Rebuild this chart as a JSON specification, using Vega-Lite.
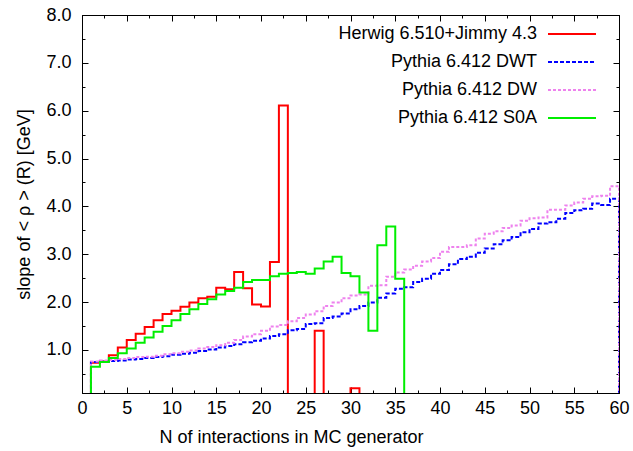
{
  "$schema": "https://vega.github.io/schema/vega-lite/v6.json",
  "width": 537,
  "height": 378,
  "autosize": "none",
  "padding": {"left": 82, "top": 15, "right": 14, "bottom": 58},
  "background": "white",
  "config": {
    "font": "Liberation Sans",
    "view": {"stroke": "black", "strokeWidth": 1},
    "axis": {"domainColor": "black", "tickColor": "black", "labelColor": "black", "titleColor": "black", "grid": false, "labelFontSize": 18, "titleFontSize": 18, "titleFontWeight": "normal", "tickWidth": 1, "domainWidth": 1}
  },
  "data": {
    "values": [
      {"s":"Herwig 6.510+Jimmy 4.3","x":0,"y":0},{"s":"Herwig 6.510+Jimmy 4.3","x":1,"y":0.73},{"s":"Herwig 6.510+Jimmy 4.3","x":2,"y":0.76},{"s":"Herwig 6.510+Jimmy 4.3","x":3,"y":0.89},{"s":"Herwig 6.510+Jimmy 4.3","x":4,"y":1.05},{"s":"Herwig 6.510+Jimmy 4.3","x":5,"y":1.21},{"s":"Herwig 6.510+Jimmy 4.3","x":6,"y":1.34},{"s":"Herwig 6.510+Jimmy 4.3","x":7,"y":1.48},{"s":"Herwig 6.510+Jimmy 4.3","x":8,"y":1.62},{"s":"Herwig 6.510+Jimmy 4.3","x":9,"y":1.75},{"s":"Herwig 6.510+Jimmy 4.3","x":10,"y":1.82},{"s":"Herwig 6.510+Jimmy 4.3","x":11,"y":1.90},{"s":"Herwig 6.510+Jimmy 4.3","x":12,"y":1.99},{"s":"Herwig 6.510+Jimmy 4.3","x":13,"y":2.08},{"s":"Herwig 6.510+Jimmy 4.3","x":14,"y":2.11},{"s":"Herwig 6.510+Jimmy 4.3","x":15,"y":2.30},{"s":"Herwig 6.510+Jimmy 4.3","x":16,"y":2.27},{"s":"Herwig 6.510+Jimmy 4.3","x":17,"y":2.63},{"s":"Herwig 6.510+Jimmy 4.3","x":18,"y":2.29},{"s":"Herwig 6.510+Jimmy 4.3","x":19,"y":1.95},{"s":"Herwig 6.510+Jimmy 4.3","x":20,"y":1.91},{"s":"Herwig 6.510+Jimmy 4.3","x":21,"y":2.84},{"s":"Herwig 6.510+Jimmy 4.3","x":22,"y":6.11},{"s":"Herwig 6.510+Jimmy 4.3","x":23,"y":0},{"s":"Herwig 6.510+Jimmy 4.3","x":24,"y":0},{"s":"Herwig 6.510+Jimmy 4.3","x":25,"y":0},{"s":"Herwig 6.510+Jimmy 4.3","x":26,"y":1.40},{"s":"Herwig 6.510+Jimmy 4.3","x":27,"y":0},{"s":"Herwig 6.510+Jimmy 4.3","x":28,"y":0},{"s":"Herwig 6.510+Jimmy 4.3","x":29,"y":0},{"s":"Herwig 6.510+Jimmy 4.3","x":30,"y":0.20},{"s":"Herwig 6.510+Jimmy 4.3","x":31,"y":0},{"s":"Herwig 6.510+Jimmy 4.3","x":32,"y":0},{"s":"Herwig 6.510+Jimmy 4.3","x":33,"y":0},{"s":"Herwig 6.510+Jimmy 4.3","x":34,"y":0},{"s":"Herwig 6.510+Jimmy 4.3","x":35,"y":0},{"s":"Herwig 6.510+Jimmy 4.3","x":36,"y":0},{"s":"Herwig 6.510+Jimmy 4.3","x":37,"y":0},{"s":"Herwig 6.510+Jimmy 4.3","x":38,"y":0},{"s":"Herwig 6.510+Jimmy 4.3","x":39,"y":0},{"s":"Herwig 6.510+Jimmy 4.3","x":40,"y":0},{"s":"Herwig 6.510+Jimmy 4.3","x":41,"y":0},{"s":"Herwig 6.510+Jimmy 4.3","x":42,"y":0},{"s":"Herwig 6.510+Jimmy 4.3","x":43,"y":0},{"s":"Herwig 6.510+Jimmy 4.3","x":44,"y":0},{"s":"Herwig 6.510+Jimmy 4.3","x":45,"y":0},{"s":"Herwig 6.510+Jimmy 4.3","x":46,"y":0},{"s":"Herwig 6.510+Jimmy 4.3","x":47,"y":0},{"s":"Herwig 6.510+Jimmy 4.3","x":48,"y":0},{"s":"Herwig 6.510+Jimmy 4.3","x":49,"y":0},{"s":"Herwig 6.510+Jimmy 4.3","x":50,"y":0},{"s":"Herwig 6.510+Jimmy 4.3","x":51,"y":0},{"s":"Herwig 6.510+Jimmy 4.3","x":52,"y":0},{"s":"Herwig 6.510+Jimmy 4.3","x":53,"y":0},{"s":"Herwig 6.510+Jimmy 4.3","x":54,"y":0},{"s":"Herwig 6.510+Jimmy 4.3","x":55,"y":0},{"s":"Herwig 6.510+Jimmy 4.3","x":56,"y":0},{"s":"Herwig 6.510+Jimmy 4.3","x":57,"y":0},{"s":"Herwig 6.510+Jimmy 4.3","x":58,"y":0},{"s":"Herwig 6.510+Jimmy 4.3","x":59,"y":0},{"s":"Herwig 6.510+Jimmy 4.3","x":60,"y":0},

      {"s":"Pythia 6.412 DWT","x":0,"y":0},{"s":"Pythia 6.412 DWT","x":1,"y":0.75},{"s":"Pythia 6.412 DWT","x":2,"y":0.76},{"s":"Pythia 6.412 DWT","x":3,"y":0.77},{"s":"Pythia 6.412 DWT","x":4,"y":0.78},{"s":"Pythia 6.412 DWT","x":5,"y":0.80},{"s":"Pythia 6.412 DWT","x":6,"y":0.81},{"s":"Pythia 6.412 DWT","x":7,"y":0.83},{"s":"Pythia 6.412 DWT","x":8,"y":0.85},{"s":"Pythia 6.412 DWT","x":9,"y":0.87},{"s":"Pythia 6.412 DWT","x":10,"y":0.90},{"s":"Pythia 6.412 DWT","x":11,"y":0.92},{"s":"Pythia 6.412 DWT","x":12,"y":0.94},{"s":"Pythia 6.412 DWT","x":13,"y":0.98},{"s":"Pythia 6.412 DWT","x":14,"y":1.01},{"s":"Pythia 6.412 DWT","x":15,"y":1.05},{"s":"Pythia 6.412 DWT","x":16,"y":1.08},{"s":"Pythia 6.412 DWT","x":17,"y":1.12},{"s":"Pythia 6.412 DWT","x":18,"y":1.16},{"s":"Pythia 6.412 DWT","x":19,"y":1.19},{"s":"Pythia 6.412 DWT","x":20,"y":1.24},{"s":"Pythia 6.412 DWT","x":21,"y":1.29},{"s":"Pythia 6.412 DWT","x":22,"y":1.33},{"s":"Pythia 6.412 DWT","x":23,"y":1.41},{"s":"Pythia 6.412 DWT","x":24,"y":1.44},{"s":"Pythia 6.412 DWT","x":25,"y":1.54},{"s":"Pythia 6.412 DWT","x":26,"y":1.56},{"s":"Pythia 6.412 DWT","x":27,"y":1.67},{"s":"Pythia 6.412 DWT","x":28,"y":1.70},{"s":"Pythia 6.412 DWT","x":29,"y":1.76},{"s":"Pythia 6.412 DWT","x":30,"y":1.85},{"s":"Pythia 6.412 DWT","x":31,"y":1.92},{"s":"Pythia 6.412 DWT","x":32,"y":1.99},{"s":"Pythia 6.412 DWT","x":33,"y":2.09},{"s":"Pythia 6.412 DWT","x":34,"y":2.18},{"s":"Pythia 6.412 DWT","x":35,"y":2.28},{"s":"Pythia 6.412 DWT","x":36,"y":2.31},{"s":"Pythia 6.412 DWT","x":37,"y":2.42},{"s":"Pythia 6.412 DWT","x":38,"y":2.49},{"s":"Pythia 6.412 DWT","x":39,"y":2.59},{"s":"Pythia 6.412 DWT","x":40,"y":2.67},{"s":"Pythia 6.412 DWT","x":41,"y":2.79},{"s":"Pythia 6.412 DWT","x":42,"y":2.90},{"s":"Pythia 6.412 DWT","x":43,"y":2.95},{"s":"Pythia 6.412 DWT","x":44,"y":3.03},{"s":"Pythia 6.412 DWT","x":45,"y":3.12},{"s":"Pythia 6.412 DWT","x":46,"y":3.21},{"s":"Pythia 6.412 DWT","x":47,"y":3.29},{"s":"Pythia 6.412 DWT","x":48,"y":3.36},{"s":"Pythia 6.412 DWT","x":49,"y":3.46},{"s":"Pythia 6.412 DWT","x":50,"y":3.53},{"s":"Pythia 6.412 DWT","x":51,"y":3.64},{"s":"Pythia 6.412 DWT","x":52,"y":3.67},{"s":"Pythia 6.412 DWT","x":53,"y":3.74},{"s":"Pythia 6.412 DWT","x":54,"y":3.86},{"s":"Pythia 6.412 DWT","x":55,"y":3.92},{"s":"Pythia 6.412 DWT","x":56,"y":3.95},{"s":"Pythia 6.412 DWT","x":57,"y":4.06},{"s":"Pythia 6.412 DWT","x":58,"y":4.03},{"s":"Pythia 6.412 DWT","x":59,"y":4.16},{"s":"Pythia 6.412 DWT","x":60,"y":0},

      {"s":"Pythia 6.412 DW","x":0,"y":0},{"s":"Pythia 6.412 DW","x":1,"y":0.76},{"s":"Pythia 6.412 DW","x":2,"y":0.78},{"s":"Pythia 6.412 DW","x":3,"y":0.79},{"s":"Pythia 6.412 DW","x":4,"y":0.81},{"s":"Pythia 6.412 DW","x":5,"y":0.83},{"s":"Pythia 6.412 DW","x":6,"y":0.85},{"s":"Pythia 6.412 DW","x":7,"y":0.86},{"s":"Pythia 6.412 DW","x":8,"y":0.88},{"s":"Pythia 6.412 DW","x":9,"y":0.91},{"s":"Pythia 6.412 DW","x":10,"y":0.93},{"s":"Pythia 6.412 DW","x":11,"y":0.96},{"s":"Pythia 6.412 DW","x":12,"y":0.99},{"s":"Pythia 6.412 DW","x":13,"y":1.03},{"s":"Pythia 6.412 DW","x":14,"y":1.06},{"s":"Pythia 6.412 DW","x":15,"y":1.10},{"s":"Pythia 6.412 DW","x":16,"y":1.15},{"s":"Pythia 6.412 DW","x":17,"y":1.21},{"s":"Pythia 6.412 DW","x":18,"y":1.28},{"s":"Pythia 6.412 DW","x":19,"y":1.33},{"s":"Pythia 6.412 DW","x":20,"y":1.40},{"s":"Pythia 6.412 DW","x":21,"y":1.49},{"s":"Pythia 6.412 DW","x":22,"y":1.52},{"s":"Pythia 6.412 DW","x":23,"y":1.60},{"s":"Pythia 6.412 DW","x":24,"y":1.67},{"s":"Pythia 6.412 DW","x":25,"y":1.74},{"s":"Pythia 6.412 DW","x":26,"y":1.81},{"s":"Pythia 6.412 DW","x":27,"y":1.92},{"s":"Pythia 6.412 DW","x":28,"y":1.99},{"s":"Pythia 6.412 DW","x":29,"y":2.08},{"s":"Pythia 6.412 DW","x":30,"y":2.14},{"s":"Pythia 6.412 DW","x":31,"y":2.16},{"s":"Pythia 6.412 DW","x":32,"y":2.34},{"s":"Pythia 6.412 DW","x":33,"y":2.35},{"s":"Pythia 6.412 DW","x":34,"y":2.53},{"s":"Pythia 6.412 DW","x":35,"y":2.62},{"s":"Pythia 6.412 DW","x":36,"y":2.68},{"s":"Pythia 6.412 DW","x":37,"y":2.76},{"s":"Pythia 6.412 DW","x":38,"y":2.85},{"s":"Pythia 6.412 DW","x":39,"y":2.92},{"s":"Pythia 6.412 DW","x":40,"y":3.05},{"s":"Pythia 6.412 DW","x":41,"y":3.15},{"s":"Pythia 6.412 DW","x":42,"y":3.15},{"s":"Pythia 6.412 DW","x":43,"y":3.19},{"s":"Pythia 6.412 DW","x":44,"y":3.33},{"s":"Pythia 6.412 DW","x":45,"y":3.43},{"s":"Pythia 6.412 DW","x":46,"y":3.48},{"s":"Pythia 6.412 DW","x":47,"y":3.55},{"s":"Pythia 6.412 DW","x":48,"y":3.60},{"s":"Pythia 6.412 DW","x":49,"y":3.70},{"s":"Pythia 6.412 DW","x":50,"y":3.75},{"s":"Pythia 6.412 DW","x":51,"y":3.77},{"s":"Pythia 6.412 DW","x":52,"y":3.93},{"s":"Pythia 6.412 DW","x":53,"y":3.93},{"s":"Pythia 6.412 DW","x":54,"y":4.02},{"s":"Pythia 6.412 DW","x":55,"y":4.08},{"s":"Pythia 6.412 DW","x":56,"y":4.16},{"s":"Pythia 6.412 DW","x":57,"y":4.21},{"s":"Pythia 6.412 DW","x":58,"y":4.22},{"s":"Pythia 6.412 DW","x":59,"y":4.42},{"s":"Pythia 6.412 DW","x":60,"y":0},

      {"s":"Pythia 6.412 S0A","x":0,"y":0},{"s":"Pythia 6.412 S0A","x":1,"y":0.65},{"s":"Pythia 6.412 S0A","x":2,"y":0.75},{"s":"Pythia 6.412 S0A","x":3,"y":0.83},{"s":"Pythia 6.412 S0A","x":4,"y":0.93},{"s":"Pythia 6.412 S0A","x":5,"y":1.03},{"s":"Pythia 6.412 S0A","x":6,"y":1.15},{"s":"Pythia 6.412 S0A","x":7,"y":1.26},{"s":"Pythia 6.412 S0A","x":8,"y":1.38},{"s":"Pythia 6.412 S0A","x":9,"y":1.50},{"s":"Pythia 6.412 S0A","x":10,"y":1.62},{"s":"Pythia 6.412 S0A","x":11,"y":1.75},{"s":"Pythia 6.412 S0A","x":12,"y":1.85},{"s":"Pythia 6.412 S0A","x":13,"y":1.96},{"s":"Pythia 6.412 S0A","x":14,"y":2.06},{"s":"Pythia 6.412 S0A","x":15,"y":2.16},{"s":"Pythia 6.412 S0A","x":16,"y":2.23},{"s":"Pythia 6.412 S0A","x":17,"y":2.30},{"s":"Pythia 6.412 S0A","x":18,"y":2.42},{"s":"Pythia 6.412 S0A","x":19,"y":2.46},{"s":"Pythia 6.412 S0A","x":20,"y":2.46},{"s":"Pythia 6.412 S0A","x":21,"y":2.54},{"s":"Pythia 6.412 S0A","x":22,"y":2.59},{"s":"Pythia 6.412 S0A","x":23,"y":2.61},{"s":"Pythia 6.412 S0A","x":24,"y":2.63},{"s":"Pythia 6.412 S0A","x":25,"y":2.59},{"s":"Pythia 6.412 S0A","x":26,"y":2.70},{"s":"Pythia 6.412 S0A","x":27,"y":2.85},{"s":"Pythia 6.412 S0A","x":28,"y":2.95},{"s":"Pythia 6.412 S0A","x":29,"y":2.61},{"s":"Pythia 6.412 S0A","x":30,"y":2.54},{"s":"Pythia 6.412 S0A","x":31,"y":2.20},{"s":"Pythia 6.412 S0A","x":32,"y":1.40},{"s":"Pythia 6.412 S0A","x":33,"y":3.19},{"s":"Pythia 6.412 S0A","x":34,"y":3.58},{"s":"Pythia 6.412 S0A","x":35,"y":2.49},{"s":"Pythia 6.412 S0A","x":36,"y":0},{"s":"Pythia 6.412 S0A","x":37,"y":0},{"s":"Pythia 6.412 S0A","x":38,"y":0},{"s":"Pythia 6.412 S0A","x":39,"y":0},{"s":"Pythia 6.412 S0A","x":40,"y":0},{"s":"Pythia 6.412 S0A","x":41,"y":0},{"s":"Pythia 6.412 S0A","x":42,"y":0},{"s":"Pythia 6.412 S0A","x":43,"y":0},{"s":"Pythia 6.412 S0A","x":44,"y":0},{"s":"Pythia 6.412 S0A","x":45,"y":0},{"s":"Pythia 6.412 S0A","x":46,"y":0},{"s":"Pythia 6.412 S0A","x":47,"y":0},{"s":"Pythia 6.412 S0A","x":48,"y":0},{"s":"Pythia 6.412 S0A","x":49,"y":0},{"s":"Pythia 6.412 S0A","x":50,"y":0},{"s":"Pythia 6.412 S0A","x":51,"y":0},{"s":"Pythia 6.412 S0A","x":52,"y":0},{"s":"Pythia 6.412 S0A","x":53,"y":0},{"s":"Pythia 6.412 S0A","x":54,"y":0},{"s":"Pythia 6.412 S0A","x":55,"y":0},{"s":"Pythia 6.412 S0A","x":56,"y":0},{"s":"Pythia 6.412 S0A","x":57,"y":0},{"s":"Pythia 6.412 S0A","x":58,"y":0},{"s":"Pythia 6.412 S0A","x":59,"y":0},{"s":"Pythia 6.412 S0A","x":60,"y":0}
    ]
  },
  "layer": [
    {
      "mark": {"type": "line", "interpolate": "step-after", "clip": true, "strokeWidth": 2},
      "encoding": {
        "x": {
          "field": "x", "type": "quantitative",
          "scale": {"domain": [0, 60], "nice": false, "zero": false},
          "axis": {
            "orient": "bottom",
            "title": "N of interactions in MC generator",
            "titlePadding": 8,
            "titleX": 209,
            "titleAlign": "center",
            "values": [0,2.5,5,7.5,10,12.5,15,17.5,20,22.5,25,27.5,30,32.5,35,37.5,40,42.5,45,47.5,50,52.5,55,57.5,60],
            "labelExpr": "datum.value % 5 === 0 ? datum.label : ''",
            "labelOverlap": false,
            "labelFlush": false,
            "labelPadding": 12,
            "tickSize": {"condition": {"test": "datum.value % 5 === 0", "value": -6}, "value": -3}
          }
        },
        "y": {
          "field": "y", "type": "quantitative",
          "scale": {"domain": [0.1, 8], "nice": false, "zero": false},
          "axis": {
            "orient": "left",
            "title": "slope of < ρ > (R) [GeV]",
            "titlePadding": 12,
            "values": [0.5,1,1.5,2,2.5,3,3.5,4,4.5,5,5.5,6,6.5,7,7.5,8],
            "labelExpr": "datum.value % 1 === 0 ? format(datum.value, '.1f') : ''",
            "labelOverlap": false,
            "labelFlush": false,
            "labelPadding": 17,
            "tickSize": {"condition": {"test": "datum.value % 1 === 0", "value": -6}, "value": -3}
          }
        },
        "color": {
          "field": "s", "type": "nominal",
          "scale": {
            "domain": ["Herwig 6.510+Jimmy 4.3", "Pythia 6.412 DWT", "Pythia 6.412 DW", "Pythia 6.412 S0A"],
            "range": ["#ff0000", "#0000ff", "#ee82ee", "#00ee00"]
          },
          "legend": {
            "title": null, "orient": "none", "legendX": 477, "legendY": 6, "padding": 0,
            "labelAlign": "right", "labelOffset": -48, "labelFontSize": 18, "labelColor": "black", "labelLimit": 400,
            "symbolType": "M-2,0H2", "symbolSize": 576, "symbolStrokeWidth": 2, "rowPadding": 6
          }
        },
        "strokeDash": {
          "field": "s", "type": "nominal",
          "scale": {
            "domain": ["Herwig 6.510+Jimmy 4.3", "Pythia 6.412 DWT", "Pythia 6.412 DW", "Pythia 6.412 S0A"],
            "range": [[1, 0], [4, 2], [3, 2], [1, 0]]
          },
          "legend": {
            "title": null, "orient": "none", "legendX": 477, "legendY": 6, "padding": 0,
            "labelAlign": "right", "labelOffset": -48, "labelFontSize": 18, "labelColor": "black", "labelLimit": 400,
            "symbolType": "M-2,0H2", "symbolSize": 576, "symbolStrokeWidth": 2, "rowPadding": 6
          }
        }
      }
    },
    {
      "mark": {"type": "line", "opacity": 0},
      "encoding": {
        "x": {
          "field": "x", "type": "quantitative",
          "axis": {
            "orient": "top", "title": null, "labels": false,
            "values": [0,2.5,5,7.5,10,12.5,15,17.5,20,22.5,25,27.5,30,32.5,35,37.5,40,42.5,45,47.5,50,52.5,55,57.5,60],
            "tickSize": {"condition": {"test": "datum.value % 5 === 0", "value": -6}, "value": -3}
          }
        },
        "y": {
          "field": "y", "type": "quantitative",
          "axis": {
            "orient": "right", "title": null, "labels": false,
            "values": [0.5,1,1.5,2,2.5,3,3.5,4,4.5,5,5.5,6,6.5,7,7.5,8],
            "tickSize": {"condition": {"test": "datum.value % 1 === 0", "value": -6}, "value": -3}
          }
        }
      }
    }
  ],
  "resolve": {"axis": {"x": "independent", "y": "independent"}}
}
